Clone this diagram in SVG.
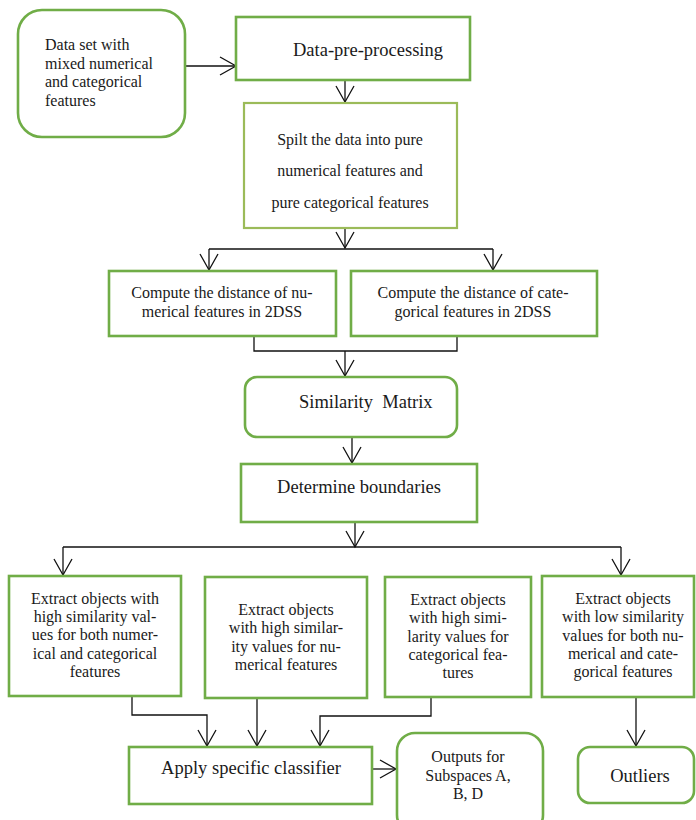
<svg xmlns="http://www.w3.org/2000/svg" width="696" height="820" viewBox="0 0 696 820">
<style>
.box{fill:#fff;stroke:#70ad47;stroke-width:2.6}
.lite{fill:#fff;stroke:#9bbb59;stroke-width:2.2}
.t{font-family:"Liberation Serif","Times New Roman",serif;font-size:16px;fill:#1a1a1a}
.tl{font-family:"Liberation Serif","Times New Roman",serif;font-size:18.5px;fill:#1a1a1a}
.c{text-anchor:middle}
.con{fill:none;stroke:#111;stroke-width:1.3}
.arr{marker-end:url(#ah)}
</style>
<defs>
<marker id="ah" markerUnits="userSpaceOnUse" viewBox="-18 -11 20 22" refX="0" refY="0" markerWidth="20" markerHeight="22" orient="auto" overflow="visible">
<path d="M-16,-9 L0,0 L-16,9" fill="none" stroke="#111" stroke-width="1.3"/>
</marker>
</defs>
<g id="connectors">
<path class="con arr" d="M185,66 H236"/>
<path class="con arr" d="M345,81 V102"/>
<path class="con arr" d="M345,228 V248"/>
<path class="con" d="M209,249 H493"/>
<path class="con arr" d="M209,249 V270"/>
<path class="con arr" d="M493,249 V270"/>
<path class="con" d="M254,336 V351 H457 V336"/>
<path class="con arr" d="M345,351 V376"/>
<path class="con arr" d="M352,437 V463"/>
<path class="con arr" d="M355,522 V547"/>
<path class="con" d="M63,547 H621"/>
<path class="con arr" d="M63,547 V575"/>
<path class="con arr" d="M621,547 V575"/>
<path class="con arr" d="M132,696 V715 H207 V746"/>
<path class="con arr" d="M257,698 V746"/>
<path class="con arr" d="M431,697 V716 H320 V746"/>
<path class="con arr" d="M372,769 H396"/>
<path class="con arr" d="M636,697 V746"/>
</g>
<g id="n1">
<rect class="box" x="18" y="10" width="167" height="127" rx="24"/>
<text class="t" x="45" y="50">Data set with</text>
<text class="t" x="45" y="69">mixed numerical</text>
<text class="t" x="45" y="87">and categorical</text>
<text class="t" x="45" y="106">features</text>
</g>
<g id="n2">
<rect class="box" x="236" y="17" width="234" height="63"/>
<text class="tl c" x="368" y="56">Data-pre-processing</text>
</g>
<g id="n3">
<rect class="lite" x="244" y="103" width="213" height="125"/>
<text class="t c" x="350" y="145">Spilt the data into pure</text>
<text class="t c" x="350" y="176">numerical features and</text>
<text class="t c" x="350" y="208">pure categorical features</text>
</g>
<g id="n4">
<rect class="box" x="109" y="271" width="227" height="65"/>
<text class="t c" x="222" y="298">Compute the distance of nu-</text>
<text class="t c" x="222" y="317">merical features in 2DSS</text>
</g>
<g id="n5">
<rect class="box" x="351" y="271" width="246" height="65"/>
<text class="t c" x="473" y="298">Compute the distance of cate-</text>
<text class="t c" x="473" y="317">gorical features in 2DSS</text>
</g>
<g id="n6">
<rect class="box" x="245" y="377" width="212" height="60" rx="12"/>
<text class="tl" x="299" y="408" style="white-space:pre">Similarity  Matrix</text>
</g>
<g id="n7">
<rect class="box" x="241" y="464" width="236" height="58"/>
<text class="tl c" x="359" y="493">Determine boundaries</text>
</g>
<g id="n8">
<rect class="box" x="9" y="576" width="172" height="120"/>
<text class="t c" x="95" y="604">Extract objects with</text>
<text class="t c" x="95" y="622">high similarity val-</text>
<text class="t c" x="95" y="640">ues for both numer-</text>
<text class="t c" x="95" y="659">ical and categorical</text>
<text class="t c" x="95" y="677">features</text>
</g>
<g id="n9">
<rect class="box" x="205" y="577" width="162" height="121"/>
<text class="t c" x="286" y="615">Extract objects</text>
<text class="t c" x="286" y="633">with high similar-</text>
<text class="t c" x="286" y="652">ity values for nu-</text>
<text class="t c" x="286" y="670">merical features</text>
</g>
<g id="n10">
<rect class="box" x="385" y="577" width="146" height="120"/>
<text class="t c" x="458" y="605">Extract objects</text>
<text class="t c" x="458" y="623">with high simi-</text>
<text class="t c" x="458" y="642">larity values for</text>
<text class="t c" x="458" y="660">categorical fea-</text>
<text class="t c" x="458" y="678">tures</text>
</g>
<g id="n11">
<rect class="box" x="542" y="576" width="152" height="121"/>
<text class="t c" x="623" y="604">Extract objects</text>
<text class="t c" x="623" y="622">with low similarity</text>
<text class="t c" x="623" y="641">values for both nu-</text>
<text class="t c" x="623" y="659">merical and cate-</text>
<text class="t c" x="623" y="677">gorical features</text>
</g>
<g id="n12">
<rect class="box" x="129" y="747" width="243" height="57"/>
<text class="tl c" x="251" y="774">Apply specific classifier</text>
</g>
<g id="n13">
<rect class="box" x="397" y="733" width="146" height="100" rx="18"/>
<text class="t c" x="468" y="762">Outputs for</text>
<text class="t c" x="468" y="781">Subspaces A,</text>
<text class="t c" x="468" y="799">B, D</text>
</g>
<g id="n14">
<rect class="box" x="578" y="747" width="116" height="56" rx="12"/>
<text class="tl c" x="640" y="782">Outliers</text>
</g>
</svg>
